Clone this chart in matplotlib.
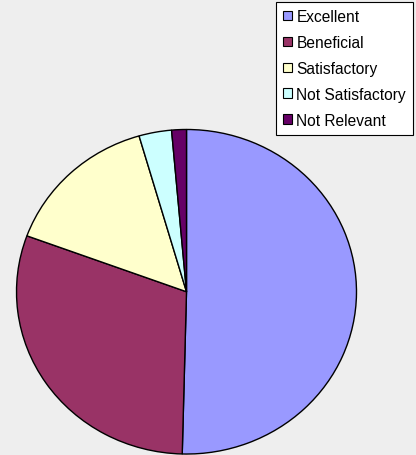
import matplotlib
matplotlib.use("Agg")
import matplotlib.pyplot as plt
from matplotlib.patches import Patch

categories = ["Excellent", "Beneficial", "Satisfactory", "Not Satisfactory", "Not Relevant"]
shares = [50.4, 30.2, 14.9, 3.1, 1.4]
colors = ["#9999FF", "#993366", "#FFFFCC", "#CCFFFF", "#660066"]

plt.rcParams["font.family"] = ["Liberation Sans", "DejaVu Sans"]

fig = plt.figure(figsize=(4.16, 4.56), dpi=100, facecolor="#EEEEEE")
ax = fig.add_axes([16 / 416, 0.0, 341 / 416, 326 / 456])
ax.set_facecolor("none")

ax.pie(shares, colors=colors, startangle=90, counterclock=False,
       wedgeprops=dict(edgecolor="black", linewidth=1.0))
ax.set_aspect("auto")
ax.set_xlim(-1.003, 1.003)
ax.set_ylim(-1.006, 1.003)
ax.axis("off")

handles = [Patch(facecolor=c, edgecolor="black", linewidth=0.8) for c in colors]
leg = fig.legend(handles, categories, loc="upper right",
                 bbox_to_anchor=(413 / 416, 1 - 3 / 456),
                 fontsize=11.2, frameon=True, fancybox=False,
                 handlelength=0.55, handleheight=0.55, handletextpad=0.3,
                 labelspacing=0.7, borderpad=0.45, borderaxespad=0.0)
frame = leg.get_frame()
frame.set_edgecolor("black")
frame.set_facecolor("white")
frame.set_linewidth(0.8)
frame.set_alpha(1.0)

fig.savefig("out.png", dpi=100, facecolor=fig.get_facecolor())
